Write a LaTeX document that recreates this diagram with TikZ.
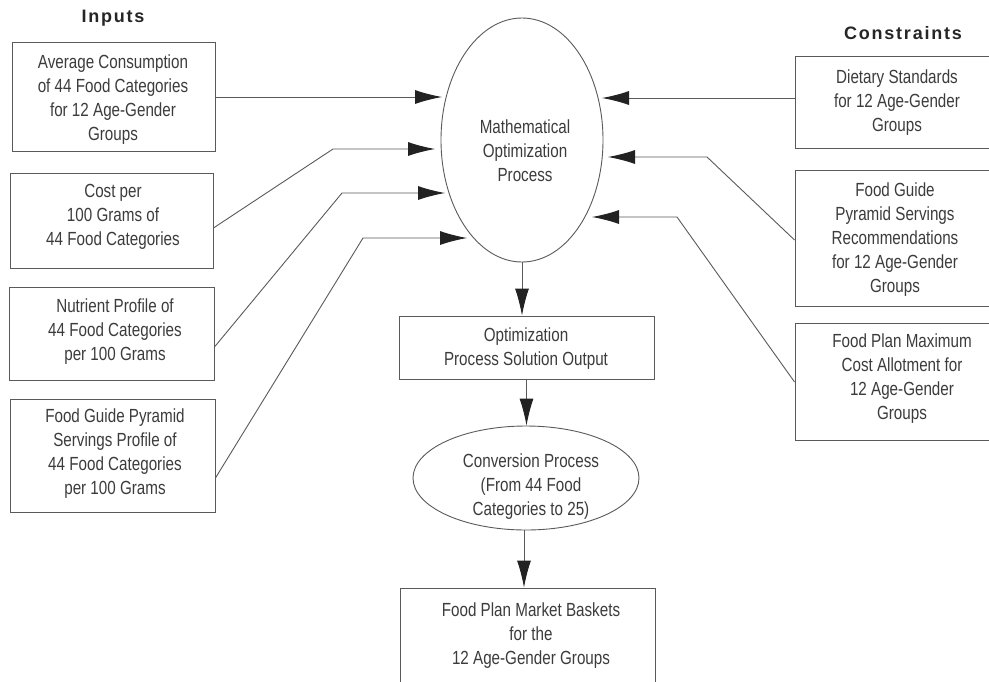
\documentclass[tikz,border=0pt]{standalone}
\usepackage{fontspec}
\setmainfont{Liberation Sans}
\newfontfamily\narrowfont[FakeStretch=0.8]{Liberation Sans}
\newfontfamily\titlefont[LetterSpace=10]{Liberation Sans}
\usetikzlibrary{shapes.geometric,arrows.meta}
\definecolor{linegray}{HTML}{5A5A5A}
\definecolor{textgray}{HTML}{3C3C3C}
\definecolor{tipgray}{HTML}{222222}
\tikzset{
  boxshape/.style={draw=linegray, line width=0.9pt, rectangle, inner sep=0pt},
  ellshape/.style={draw=linegray, line width=0.9pt, ellipse, inner sep=0pt},
  txt/.style={font=\narrowfont\fontsize{19}{24}\selectfont, text=textgray, align=center, inner sep=0pt},
  ttl/.style={font=\titlefont\bfseries\fontsize{18}{22}\selectfont, text=black!85, inner sep=0pt},
  arr/.style={draw=linegray, line width=0.9pt, -{Latex[length=27pt,width=14pt,color=tipgray]}},
  ln/.style={draw=linegray, line width=0.9pt}
}
\begin{document}
\begin{tikzpicture}[x=1pt,y=-1pt]
\useasboundingbox (0,0) rectangle (989,681);
\clip (0,0) rectangle (989,681);
\fill[white] (0,0) rectangle (989,681);

% titles
\node[ttl] (tin) at (113,18) {Inputs};
\node[ttl] (tcon) at (903,33) {Constraints};

% input boxes
\node[boxshape, minimum width=203pt, minimum height=109pt] (b1) at (113.5,96.5) {};
\node[boxshape, minimum width=203pt, minimum height=95pt] (b2) at (111.5,220.5) {};
\node[boxshape, minimum width=205pt, minimum height=93pt] (b3) at (111.5,333.5) {};
\node[boxshape, minimum width=205pt, minimum height=113pt] (b4) at (112.5,455.5) {};
\node[txt] (b1t) at (113,100) {Average Consumption\\of 44 Food Categories\\for 12 Age-Gender\\Groups};
\node[txt] (b2t) at (113,217) {Cost per\\100 Grams of\\44 Food Categories};
\node[txt] (b3t) at (115,332) {Nutrient Profile of\\44 Food Categories\\per 100 Grams};
\node[txt] (b4t) at (115,454) {Food Guide Pyramid\\Servings Profile of\\44 Food Categories\\per 100 Grams};

% constraint boxes
\node[boxshape, minimum width=205pt, minimum height=92pt] (r1) at (897.5,102) {};
\node[boxshape, minimum width=205pt, minimum height=136pt] (r2) at (897.5,238) {};
\node[boxshape, minimum width=205pt, minimum height=117pt] (r3) at (897.5,381.5) {};
\node[txt] (r1t) at (897,103) {Dietary Standards\\for 12 Age-Gender\\Groups};
\node[txt] (r2t) at (895,240) {Food Guide\\Pyramid Servings\\Recommendations\\for 12 Age-Gender\\Groups};
\node[txt] (r3t) at (902,379) {Food Plan Maximum\\Cost Allotment for\\12 Age-Gender\\Groups};

% central flow
\node[ellshape, minimum width=162pt, minimum height=244pt] (mop) at (522,140) {};
\node[txt] (mopt) at (525,151) {Mathematical\\Optimization\\Process};
\node[boxshape, minimum width=255pt, minimum height=63pt] (opt) at (526.5,347.5) {};
\node[txt] (optt) at (526,349) {Optimization\\Process Solution Output};
\node[ellshape, minimum width=226pt, minimum height=104pt] (conv) at (526,478) {};
\node[txt] (convt) at (531,487) {Conversion Process\\(From 44 Food\\Categories to 25)};
\node[boxshape, minimum width=255pt, minimum height=112pt] (fin) at (527.5,644) {};
\node[txt] (fint) at (531,636) {Food Plan Market Baskets\\for the\\12 Age-Gender Groups};

% coordinates for arrow tips and bends
\coordinate (a1t) at (442,97);
\coordinate (a2b) at (333,149);
\coordinate (a2t) at (435,149);
\coordinate (a3b) at (342,193);
\coordinate (a3t) at (445,193);
\coordinate (a4b) at (363,238);
\coordinate (a4t) at (467,238);
\coordinate (c1t) at (602,98);
\coordinate (c2b) at (707,157);
\coordinate (c2t) at (608,157);
\coordinate (c3b) at (677,217);
\coordinate (c3t) at (592,217);

% input arrows
\draw[arr] ([yshift=-0.5pt]b1.east) -- (a1t);
\draw[arr] ([yshift=-7.5pt]b2.east) -- (a2b) -- (a2t);
\draw[arr] ([yshift=-13.5pt]b3.east) -- (a3b) -- (a3t);
\draw[arr] ([yshift=-22.5pt]b4.east) -- (a4b) -- (a4t);

% constraint arrows
\draw[arr] ([yshift=4pt]r1.west) -- (c1t);
\draw[arr] ([yshift=-2pt]r2.west) -- (c2b) -- (c2t);
\draw[arr] ([yshift=-0.5pt]r3.west) -- (c3b) -- (c3t);

% downward arrows
\draw[arr] (mop.south) -- (opt.north -| mop.south);
\draw[arr] (opt.south) -- (conv.north -| opt.south);
\draw[arr] ([xshift=-2pt]conv.south) -- ([xshift=-2pt]conv.south |- fin.north);
\end{tikzpicture}
\end{document}
